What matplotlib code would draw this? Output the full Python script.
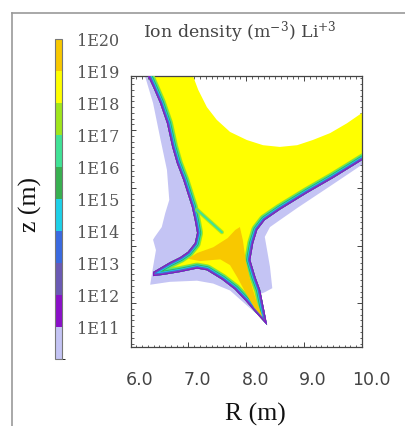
import numpy as np
import matplotlib
matplotlib.use("Agg")
import matplotlib.pyplot as plt
from matplotlib.colors import ListedColormap, BoundaryNorm
from matplotlib.cm import ScalarMappable
from matplotlib.lines import Line2D
from matplotlib.ticker import MultipleLocator
import matplotlib.transforms as mtransforms

plt.rcParams['mathtext.fontset'] = 'dejavuserif'

# ---------------- data ----------------
# colour levels (log10 of ion density), bottom -> top
level_exponents = [10, 11, 12, 13, 14, 15, 16, 17, 18, 19, 20]
level_labels = ['1E11', '1E12', '1E13', '1E14', '1E15', '1E16', '1E17', '1E18', '1E19', '1E20']
level_colors = ['#c4c4f4', '#8a10c8', '#6a5ab4', '#3a6ae0', '#1ed0e8',
                '#38b050', '#40e296', '#a0e61c', '#ffff00', '#f8c800']

# upper boundary of the high-density region (grid edge, no gradient bands)
upper_R = [6.30, 7.08, 7.17, 7.32, 7.49, 7.72, 8.01, 8.29, 8.58, 8.88, 9.15, 9.45, 9.74, 10.0]
upper_z = [0.00, 0.00, -0.24, -0.54, -0.76, -0.97, -1.11, -1.20, -1.23, -1.20, -1.11, -0.99, -0.82, -0.64]

# plasma edge of the high-density region (where density falls off)
edge_R = [10.0, 9.50, 9.05, 8.58, 8.32, 8.19, 8.12, 8.07, 8.16, 8.24, 8.31, 8.36,
          8.17, 7.99, 7.80, 7.58, 7.32, 7.15, 6.86, 6.56, 6.39,
          6.39, 6.51, 6.68, 6.86, 6.99, 7.11, 7.15, 7.11, 7.06,
          6.91, 6.80, 6.72, 6.63, 6.51, 6.39]
edge_z = [-1.46, -1.77, -2.03, -2.32, -2.50, -2.67, -2.90, -3.19, -3.49, -3.71, -4.06, -4.32,
          -4.11, -3.90, -3.70, -3.53, -3.37, -3.34, -3.40, -3.45, -3.47,
          -3.40, -3.33, -3.23, -3.14, -3.05, -2.90, -2.72, -2.50, -2.27,
          -1.80, -1.51, -1.23, -0.82, -0.47, -0.19]

# low-density (below 1E11) halo
halo_R = [6.25, 6.39, 6.51, 6.63, 6.67, 6.60, 6.54, 6.42, 6.39, 6.44, 6.39, 6.34,
          6.68, 7.15, 7.43, 7.72, 7.99, 8.17, 8.20, 8.32, 8.45, 8.41, 8.36, 8.32,
          8.41, 8.58, 8.88, 9.45, 10.0, 10.0, 8.06, 7.20, 6.60]
halo_z = [0.00, -0.47, -1.06, -1.63, -2.15, -2.38, -2.62, -2.79, -2.84, -3.02, -3.31, -3.62,
          -3.57, -3.55, -3.60, -3.72, -3.96, -4.12, -3.80, -3.75, -3.68, -3.31, -3.02, -2.79,
          -2.62, -2.50, -2.29, -1.91, -1.54, -0.94, -1.80, -0.76, 0.00]

# highest-density core (1E19 - 1E20) around the X-point and inner leg
core_R = [6.99, 7.15, 7.43, 7.68, 7.81, 7.89, 7.94, 7.99, 8.07, 8.16, 8.28,
          8.14, 8.00, 7.85, 7.72, 7.55, 7.20]
core_z = [-3.17, -3.07, -2.97, -2.81, -2.67, -2.62, -2.84, -3.19, -3.55, -3.85, -4.18,
          -4.02, -3.78, -3.50, -3.28, -3.18, -3.21]

# separatrix streak inside the region
streak_R = [7.15, 7.58]
streak_z = [-2.32, -2.71]

x_ticks = [6.0, 7.0, 8.0, 9.0, 10.0]
x_ticklabels = ['6.0', '7.0', '8.0', '9.0', '10.0']

# ---------------- figure ----------------
W, H = 405, 426
fig = plt.figure(figsize=(W / 100, H / 100), dpi=100)

ax = fig.add_axes([130.5 / W, (H - 347) / H, 231.5 / W, 271 / H])
ax.set_xlim(6.0, 10.0)
ax.set_ylim(-4.7, 0.0)

# halo
ax.fill(halo_R, halo_z, color=level_colors[0], lw=0, zorder=1)

# main region
outer_R = upper_R + edge_R
outer_z = upper_z + edge_z
poly = ax.fill(outer_R, outer_z, color=level_colors[8], lw=0, zorder=2)[0]

# gradient bands along the plasma edge (clipped to the region)
band_colors = [level_colors[7], level_colors[6], level_colors[5], level_colors[4],
               level_colors[3], level_colors[2], level_colors[1]]
band_depth_px = [6.0, 5.0, 4.1, 3.3, 2.5, 1.8, 1.0]
sR = [edge_R[0] + 0.3] + edge_R + [edge_R[-1] - 0.12]
sz = [edge_z[0] + 0.19] + edge_z + [edge_z[-1] + 0.27]
for c, d in zip(band_colors, band_depth_px):
    ln, = ax.plot(sR, sz, color=c, lw=2 * d * 0.72, solid_joinstyle='round',
                  solid_capstyle='butt', zorder=3)
    ln.set_clip_path(poly)

# core (drawn over the inner bands)
ax.fill(core_R, core_z, color=level_colors[9], lw=0, zorder=3.05)

ax.plot(streak_R, streak_z, color=level_colors[7], lw=3.0, zorder=3.1, alpha=0.8,
        solid_capstyle='round')
ax.plot(streak_R, streak_z, color=level_colors[6], lw=1.5, zorder=3.2,
        solid_capstyle='round')

# axes styling
for sp in ax.spines.values():
    sp.set_color('#444444')
    sp.set_linewidth(0.9)
ax.set_xticks(x_ticks)
ax.set_xticklabels(x_ticklabels)
ax.xaxis.set_minor_locator(MultipleLocator(0.1))
ax.set_yticks(np.arange(-0.94, -4.7, -1.0))
ax.set_yticks(np.arange(-0.04, -4.7, -0.1), minor=True)
ax.tick_params(which='both', direction='in', top=True, right=True, color='#444444')
ax.tick_params(which='major', length=3.5, width=0.7)
ax.tick_params(which='minor', length=1.8, width=0.6)
ax.tick_params(axis='y', labelleft=False)
ax.tick_params(axis='x', labelsize=12.5, labelcolor='#444444', pad=17)
for lab in ax.get_xticklabels():
    lab.set_fontfamily('DejaVu Sans')
    lab.set_transform(lab.get_transform() + mtransforms.ScaledTranslation(0.09, 0, fig.dpi_scale_trans))

# axis labels
fig.text(255 / W, 1 - 414 / H, 'R (m)', family='Liberation Serif', fontsize=18.5,
         ha='center', va='center', color='#111111')
fig.text(30 / W, 1 - 205 / H, 'z (m)', family='Liberation Serif', fontsize=18.5,
         ha='center', va='center', rotation=90, color='#111111')

# title
fig.text(143 / W, 1 - 37 / H, r'Ion density (m$^{-3}$) Li$^{+3}$', family='DejaVu Serif',
         fontsize=12.5, ha='left', va='baseline', color='#444444')

# colour bar
cax = fig.add_axes([55 / W, (H - 359) / H, 7 / W, 320 / H])
cmap = ListedColormap(level_colors)
norm = BoundaryNorm(level_exponents, cmap.N)
cb = fig.colorbar(ScalarMappable(norm=norm, cmap=cmap), cax=cax, ticks=level_exponents[1:])
cb.ax.set_yticklabels(level_labels)
cax.tick_params(length=0, pad=11, labelsize=11.5, labelcolor='#555555')
for lab in cax.get_yticklabels():
    lab.set_fontfamily('DejaVu Serif')
cb.outline.set_edgecolor('#777777')
cb.outline.set_linewidth(0.8)

# surrounding frame of the cropped panel
fig.add_artist(Line2D([12 / W, 12 / W], [0, 1 - 13 / H], transform=fig.transFigure,
                      color='#999999', lw=1.2))
fig.add_artist(Line2D([12 / W, 1], [1 - 13 / H, 1 - 13 / H], transform=fig.transFigure,
                      color='#999999', lw=1.2))

fig.savefig('out.png', dpi=100)
